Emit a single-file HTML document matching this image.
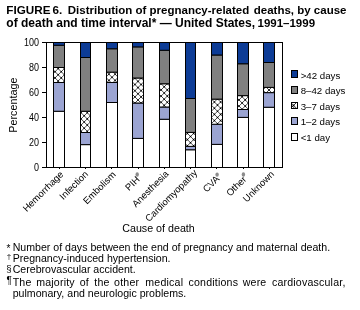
<!DOCTYPE html>
<html><head><meta charset="utf-8"><style>
html,body{margin:0;padding:0;background:#fff;} body{will-change:transform;}
body{width:360px;height:310px;position:relative;overflow:hidden;font-family:"Liberation Sans",sans-serif;color:#000;}
.t{position:absolute;font-weight:bold;line-height:13px;white-space:nowrap;}
svg{position:absolute;left:0;top:0;}
</style></head><body>
<div class="t" style="left:6.3px;top:3px;font-size:11.7px">FIGURE</div>
<div class="t" style="left:52.6px;top:3px;font-size:11.7px">6.</div>
<div class="t" style="left:67.8px;top:4px;font-size:11.5px">Distribution of pregnancy-related</div>
<div class="t" style="left:253.8px;top:4px;font-size:11.5px">deaths, by cause</div>
<div class="t" style="left:6.3px;top:17px;font-size:12px">of death and time interval* — United States,</div>
<div class="t" style="left:257.5px;top:17px;font-size:11.5px">1991–1999</div>
<svg width="360" height="310" viewBox="0 0 360 310" font-family="Liberation Sans" font-size="10">
<defs>
<clipPath id="c0"><rect x="53.5" y="67.50" width="11.0" height="15.00"/></clipPath>
<clipPath id="c1"><rect x="80.5" y="111.25" width="10.0" height="21.25"/></clipPath>
<clipPath id="c2"><rect x="106.5" y="72.12" width="11.0" height="10.38"/></clipPath>
<clipPath id="c3"><rect x="132.5" y="78.00" width="11.0" height="25.00"/></clipPath>
<clipPath id="c4"><rect x="159.5" y="83.75" width="10.0" height="23.25"/></clipPath>
<clipPath id="c5"><rect x="185.5" y="132.38" width="10.0" height="14.00"/></clipPath>
<clipPath id="c6"><rect x="211.5" y="99.12" width="11.0" height="25.12"/></clipPath>
<clipPath id="c7"><rect x="237.5" y="95.62" width="11.0" height="13.88"/></clipPath>
<clipPath id="c8"><rect x="263.5" y="87.38" width="11.0" height="5.25"/></clipPath>
<clipPath id="clg"><rect x="291.5" y="102.5" width="6" height="6"/></clipPath>
</defs>
<rect x="53.5" y="111.25" width="11" height="56.25" fill="#ffffff" stroke="#000" stroke-width="1"/>
<rect x="53.5" y="82.50" width="11" height="28.75" fill="#9ba4d2" stroke="#000" stroke-width="1"/>
<rect x="53.5" y="67.50" width="11" height="15.00" fill="#fff"/>
<g clip-path="url(#c0)"><path d="M30.25,65.50L49.25,84.50M36.45,65.50L55.45,84.50M42.65,65.50L61.65,84.50M48.85,65.50L67.85,84.50M55.05,65.50L74.05,84.50M61.25,65.50L80.25,84.50M67.45,65.50L86.45,84.50M73.65,65.50L92.65,84.50M48.85,65.50L29.85,84.50M55.05,65.50L36.05,84.50M61.25,65.50L42.25,84.50M67.45,65.50L48.45,84.50M73.65,65.50L54.65,84.50M79.85,65.50L60.85,84.50M86.05,65.50L67.05,84.50M92.25,65.50L73.25,84.50" stroke="#000" stroke-width="0.7" fill="none"/><g fill="#000"><circle cx="55.05" cy="71.70" r="0.8"/><circle cx="55.05" cy="77.90" r="0.8"/><circle cx="58.15" cy="68.60" r="0.8"/><circle cx="58.15" cy="74.80" r="0.8"/><circle cx="58.15" cy="81.00" r="0.8"/><circle cx="61.25" cy="71.70" r="0.8"/><circle cx="61.25" cy="77.90" r="0.8"/><circle cx="64.35" cy="68.60" r="0.8"/><circle cx="64.35" cy="74.80" r="0.8"/><circle cx="64.35" cy="81.00" r="0.8"/></g></g>
<rect x="53.5" y="67.50" width="11" height="15.00" fill="none" stroke="#000" stroke-width="1"/>
<rect x="53.5" y="45.25" width="11" height="22.25" fill="#808080" stroke="#000" stroke-width="1"/>
<rect x="53.5" y="42.50" width="11" height="2.75" fill="#0d3c96" stroke="#000" stroke-width="1"/>
<rect x="80.5" y="144.62" width="10" height="22.88" fill="#ffffff" stroke="#000" stroke-width="1"/>
<rect x="80.5" y="132.50" width="10" height="12.12" fill="#9ba4d2" stroke="#000" stroke-width="1"/>
<rect x="80.5" y="111.25" width="10" height="21.25" fill="#fff"/>
<g clip-path="url(#c1)"><path d="M46.60,109.25L71.85,134.50M52.80,109.25L78.05,134.50M59.00,109.25L84.25,134.50M65.20,109.25L90.45,134.50M71.40,109.25L96.65,134.50M77.60,109.25L102.85,134.50M83.80,109.25L109.05,134.50M90.00,109.25L115.25,134.50M96.20,109.25L121.45,134.50M72.10,109.25L46.85,134.50M78.30,109.25L53.05,134.50M84.50,109.25L59.25,134.50M90.70,109.25L65.45,134.50M96.90,109.25L71.65,134.50M103.10,109.25L77.85,134.50M109.30,109.25L84.05,134.50M115.50,109.25L90.25,134.50M121.70,109.25L96.45,134.50" stroke="#000" stroke-width="0.7" fill="none"/><g fill="#000"><circle cx="81.05" cy="112.70" r="0.8"/><circle cx="81.05" cy="118.90" r="0.8"/><circle cx="81.05" cy="125.10" r="0.8"/><circle cx="81.05" cy="131.30" r="0.8"/><circle cx="84.15" cy="115.80" r="0.8"/><circle cx="84.15" cy="122.00" r="0.8"/><circle cx="84.15" cy="128.20" r="0.8"/><circle cx="87.25" cy="112.70" r="0.8"/><circle cx="87.25" cy="118.90" r="0.8"/><circle cx="87.25" cy="125.10" r="0.8"/><circle cx="87.25" cy="131.30" r="0.8"/><circle cx="90.35" cy="115.80" r="0.8"/><circle cx="90.35" cy="122.00" r="0.8"/><circle cx="90.35" cy="128.20" r="0.8"/></g></g>
<rect x="80.5" y="111.25" width="10" height="21.25" fill="none" stroke="#000" stroke-width="1"/>
<rect x="80.5" y="57.50" width="10" height="53.75" fill="#808080" stroke="#000" stroke-width="1"/>
<rect x="80.5" y="42.50" width="10" height="15.00" fill="#0d3c96" stroke="#000" stroke-width="1"/>
<rect x="106.5" y="102.50" width="11" height="65.00" fill="#ffffff" stroke="#000" stroke-width="1"/>
<rect x="106.5" y="82.50" width="11" height="20.00" fill="#9ba4d2" stroke="#000" stroke-width="1"/>
<rect x="106.5" y="72.12" width="11" height="10.38" fill="#fff"/>
<g clip-path="url(#c2)"><path d="M86.22,70.12L100.60,84.50M92.43,70.12L106.80,84.50M98.62,70.12L113.00,84.50M104.83,70.12L119.20,84.50M111.03,70.12L125.40,84.50M117.22,70.12L131.60,84.50M123.43,70.12L137.80,84.50M100.58,70.12L86.20,84.50M106.78,70.12L92.40,84.50M112.98,70.12L98.60,84.50M119.18,70.12L104.80,84.50M125.38,70.12L111.00,84.50M131.58,70.12L117.20,84.50M137.78,70.12L123.40,84.50" stroke="#000" stroke-width="0.7" fill="none"/><g fill="#000"><circle cx="105.80" cy="77.30" r="0.8"/><circle cx="105.80" cy="83.50" r="0.8"/><circle cx="108.90" cy="74.20" r="0.8"/><circle cx="108.90" cy="80.40" r="0.8"/><circle cx="112.00" cy="77.30" r="0.8"/><circle cx="112.00" cy="83.50" r="0.8"/><circle cx="115.10" cy="74.20" r="0.8"/><circle cx="115.10" cy="80.40" r="0.8"/><circle cx="118.20" cy="77.30" r="0.8"/><circle cx="118.20" cy="83.50" r="0.8"/></g></g>
<rect x="106.5" y="72.12" width="11" height="10.38" fill="none" stroke="#000" stroke-width="1"/>
<rect x="106.5" y="48.75" width="11" height="23.38" fill="#808080" stroke="#000" stroke-width="1"/>
<rect x="106.5" y="42.50" width="11" height="6.25" fill="#0d3c96" stroke="#000" stroke-width="1"/>
<rect x="132.5" y="138.38" width="11" height="29.12" fill="#ffffff" stroke="#000" stroke-width="1"/>
<rect x="132.5" y="103.00" width="11" height="35.38" fill="#9ba4d2" stroke="#000" stroke-width="1"/>
<rect x="132.5" y="78.00" width="11" height="25.00" fill="#fff"/>
<g clip-path="url(#c3)"><path d="M95.40,76.00L124.40,105.00M101.60,76.00L130.60,105.00M107.80,76.00L136.80,105.00M114.00,76.00L143.00,105.00M120.20,76.00L149.20,105.00M126.40,76.00L155.40,105.00M132.60,76.00L161.60,105.00M138.80,76.00L167.80,105.00M145.00,76.00L174.00,105.00M151.20,76.00L180.20,105.00M124.80,76.00L95.80,105.00M131.00,76.00L102.00,105.00M137.20,76.00L108.20,105.00M143.40,76.00L114.40,105.00M149.60,76.00L120.60,105.00M155.80,76.00L126.80,105.00M162.00,76.00L133.00,105.00M168.20,76.00L139.20,105.00M174.40,76.00L145.40,105.00M180.60,76.00L151.60,105.00" stroke="#000" stroke-width="0.7" fill="none"/><g fill="#000"><circle cx="131.80" cy="81.40" r="0.8"/><circle cx="131.80" cy="87.60" r="0.8"/><circle cx="131.80" cy="93.80" r="0.8"/><circle cx="131.80" cy="100.00" r="0.8"/><circle cx="134.90" cy="78.30" r="0.8"/><circle cx="134.90" cy="84.50" r="0.8"/><circle cx="134.90" cy="90.70" r="0.8"/><circle cx="134.90" cy="96.90" r="0.8"/><circle cx="134.90" cy="103.10" r="0.8"/><circle cx="138.00" cy="81.40" r="0.8"/><circle cx="138.00" cy="87.60" r="0.8"/><circle cx="138.00" cy="93.80" r="0.8"/><circle cx="138.00" cy="100.00" r="0.8"/><circle cx="141.10" cy="78.30" r="0.8"/><circle cx="141.10" cy="84.50" r="0.8"/><circle cx="141.10" cy="90.70" r="0.8"/><circle cx="141.10" cy="96.90" r="0.8"/><circle cx="141.10" cy="103.10" r="0.8"/><circle cx="144.20" cy="81.40" r="0.8"/><circle cx="144.20" cy="87.60" r="0.8"/><circle cx="144.20" cy="93.80" r="0.8"/><circle cx="144.20" cy="100.00" r="0.8"/></g></g>
<rect x="132.5" y="78.00" width="11" height="25.00" fill="none" stroke="#000" stroke-width="1"/>
<rect x="132.5" y="46.88" width="11" height="31.12" fill="#808080" stroke="#000" stroke-width="1"/>
<rect x="132.5" y="42.50" width="11" height="4.38" fill="#0d3c96" stroke="#000" stroke-width="1"/>
<rect x="159.5" y="119.25" width="10" height="48.25" fill="#ffffff" stroke="#000" stroke-width="1"/>
<rect x="159.5" y="107.00" width="10" height="12.25" fill="#9ba4d2" stroke="#000" stroke-width="1"/>
<rect x="159.5" y="83.75" width="10" height="23.25" fill="#fff"/>
<g clip-path="url(#c4)"><path d="M121.95,81.75L149.20,109.00M128.15,81.75L155.40,109.00M134.35,81.75L161.60,109.00M140.55,81.75L167.80,109.00M146.75,81.75L174.00,109.00M152.95,81.75L180.20,109.00M159.15,81.75L186.40,109.00M165.35,81.75L192.60,109.00M171.55,81.75L198.80,109.00M177.75,81.75L205.00,109.00M150.65,81.75L123.40,109.00M156.85,81.75L129.60,109.00M163.05,81.75L135.80,109.00M169.25,81.75L142.00,109.00M175.45,81.75L148.20,109.00M181.65,81.75L154.40,109.00M187.85,81.75L160.60,109.00M194.05,81.75L166.80,109.00M200.25,81.75L173.00,109.00M206.45,81.75L179.20,109.00" stroke="#000" stroke-width="0.7" fill="none"/><g fill="#000"><circle cx="161.10" cy="83.70" r="0.8"/><circle cx="161.10" cy="89.90" r="0.8"/><circle cx="161.10" cy="96.10" r="0.8"/><circle cx="161.10" cy="102.30" r="0.8"/><circle cx="164.20" cy="86.80" r="0.8"/><circle cx="164.20" cy="93.00" r="0.8"/><circle cx="164.20" cy="99.20" r="0.8"/><circle cx="164.20" cy="105.40" r="0.8"/><circle cx="167.30" cy="83.70" r="0.8"/><circle cx="167.30" cy="89.90" r="0.8"/><circle cx="167.30" cy="96.10" r="0.8"/><circle cx="167.30" cy="102.30" r="0.8"/><circle cx="170.40" cy="86.80" r="0.8"/><circle cx="170.40" cy="93.00" r="0.8"/><circle cx="170.40" cy="99.20" r="0.8"/><circle cx="170.40" cy="105.40" r="0.8"/></g></g>
<rect x="159.5" y="83.75" width="10" height="23.25" fill="none" stroke="#000" stroke-width="1"/>
<rect x="159.5" y="50.25" width="10" height="33.50" fill="#808080" stroke="#000" stroke-width="1"/>
<rect x="159.5" y="42.50" width="10" height="7.75" fill="#0d3c96" stroke="#000" stroke-width="1"/>
<rect x="185.5" y="149.75" width="10" height="17.75" fill="#ffffff" stroke="#000" stroke-width="1"/>
<rect x="185.5" y="146.38" width="10" height="3.38" fill="#9ba4d2" stroke="#000" stroke-width="1"/>
<rect x="185.5" y="132.38" width="10" height="14.00" fill="#fff"/>
<g clip-path="url(#c5)"><path d="M159.57,130.38L177.57,148.38M165.78,130.38L183.78,148.38M171.97,130.38L189.97,148.38M178.18,130.38L196.18,148.38M184.38,130.38L202.38,148.38M190.57,130.38L208.57,148.38M196.78,130.38L214.78,148.38M202.97,130.38L220.97,148.38M178.02,130.38L160.02,148.38M184.23,130.38L166.23,148.38M190.43,130.38L172.43,148.38M196.62,130.38L178.62,148.38M202.82,130.38L184.82,148.38M209.02,130.38L191.02,148.38M215.23,130.38L197.23,148.38M221.43,130.38L203.43,148.38" stroke="#000" stroke-width="0.7" fill="none"/><g fill="#000"><circle cx="187.40" cy="133.40" r="0.8"/><circle cx="187.40" cy="139.60" r="0.8"/><circle cx="187.40" cy="145.80" r="0.8"/><circle cx="190.50" cy="136.50" r="0.8"/><circle cx="190.50" cy="142.70" r="0.8"/><circle cx="193.60" cy="133.40" r="0.8"/><circle cx="193.60" cy="139.60" r="0.8"/><circle cx="193.60" cy="145.80" r="0.8"/></g></g>
<rect x="185.5" y="132.38" width="10" height="14.00" fill="none" stroke="#000" stroke-width="1"/>
<rect x="185.5" y="98.50" width="10" height="33.88" fill="#808080" stroke="#000" stroke-width="1"/>
<rect x="185.5" y="42.50" width="10" height="56.00" fill="#0d3c96" stroke="#000" stroke-width="1"/>
<rect x="211.5" y="144.38" width="11" height="23.12" fill="#ffffff" stroke="#000" stroke-width="1"/>
<rect x="211.5" y="124.25" width="11" height="20.12" fill="#9ba4d2" stroke="#000" stroke-width="1"/>
<rect x="211.5" y="99.12" width="11" height="25.12" fill="#fff"/>
<g clip-path="url(#c6)"><path d="M172.32,97.12L201.45,126.25M178.53,97.12L207.65,126.25M184.73,97.12L213.85,126.25M190.93,97.12L220.05,126.25M197.12,97.12L226.25,126.25M203.32,97.12L232.45,126.25M209.53,97.12L238.65,126.25M215.73,97.12L244.85,126.25M221.93,97.12L251.05,126.25M228.12,97.12L257.25,126.25M206.88,97.12L177.75,126.25M213.07,97.12L183.95,126.25M219.27,97.12L190.15,126.25M225.47,97.12L196.35,126.25M231.67,97.12L202.55,126.25M237.88,97.12L208.75,126.25M244.07,97.12L214.95,126.25M250.27,97.12L221.15,126.25M256.47,97.12L227.35,126.25" stroke="#000" stroke-width="0.7" fill="none"/><g fill="#000"><circle cx="211.30" cy="98.90" r="0.8"/><circle cx="211.30" cy="105.10" r="0.8"/><circle cx="211.30" cy="111.30" r="0.8"/><circle cx="211.30" cy="117.50" r="0.8"/><circle cx="211.30" cy="123.70" r="0.8"/><circle cx="214.40" cy="102.00" r="0.8"/><circle cx="214.40" cy="108.20" r="0.8"/><circle cx="214.40" cy="114.40" r="0.8"/><circle cx="214.40" cy="120.60" r="0.8"/><circle cx="217.50" cy="98.90" r="0.8"/><circle cx="217.50" cy="105.10" r="0.8"/><circle cx="217.50" cy="111.30" r="0.8"/><circle cx="217.50" cy="117.50" r="0.8"/><circle cx="217.50" cy="123.70" r="0.8"/><circle cx="220.60" cy="102.00" r="0.8"/><circle cx="220.60" cy="108.20" r="0.8"/><circle cx="220.60" cy="114.40" r="0.8"/><circle cx="220.60" cy="120.60" r="0.8"/></g></g>
<rect x="211.5" y="99.12" width="11" height="25.12" fill="none" stroke="#000" stroke-width="1"/>
<rect x="211.5" y="55.00" width="11" height="44.12" fill="#808080" stroke="#000" stroke-width="1"/>
<rect x="211.5" y="42.50" width="11" height="12.50" fill="#0d3c96" stroke="#000" stroke-width="1"/>
<rect x="237.5" y="117.38" width="11" height="50.12" fill="#ffffff" stroke="#000" stroke-width="1"/>
<rect x="237.5" y="109.50" width="11" height="7.88" fill="#9ba4d2" stroke="#000" stroke-width="1"/>
<rect x="237.5" y="95.62" width="11" height="13.88" fill="#fff"/>
<g clip-path="url(#c7)"><path d="M214.12,93.62L232.00,111.50M220.33,93.62L238.20,111.50M226.53,93.62L244.40,111.50M232.73,93.62L250.60,111.50M238.93,93.62L256.80,111.50M245.12,93.62L263.00,111.50M251.33,93.62L269.20,111.50M257.52,93.62L275.40,111.50M232.88,93.62L215.00,111.50M239.07,93.62L221.20,111.50M245.27,93.62L227.40,111.50M251.47,93.62L233.60,111.50M257.67,93.62L239.80,111.50M263.88,93.62L246.00,111.50M270.07,93.62L252.20,111.50M276.27,93.62L258.40,111.50" stroke="#000" stroke-width="0.7" fill="none"/><g fill="#000"><circle cx="239.00" cy="99.90" r="0.8"/><circle cx="239.00" cy="106.10" r="0.8"/><circle cx="242.10" cy="96.80" r="0.8"/><circle cx="242.10" cy="103.00" r="0.8"/><circle cx="242.10" cy="109.20" r="0.8"/><circle cx="245.20" cy="99.90" r="0.8"/><circle cx="245.20" cy="106.10" r="0.8"/><circle cx="248.30" cy="96.80" r="0.8"/><circle cx="248.30" cy="103.00" r="0.8"/><circle cx="248.30" cy="109.20" r="0.8"/></g></g>
<rect x="237.5" y="95.62" width="11" height="13.88" fill="none" stroke="#000" stroke-width="1"/>
<rect x="237.5" y="63.75" width="11" height="31.88" fill="#808080" stroke="#000" stroke-width="1"/>
<rect x="237.5" y="42.50" width="11" height="21.25" fill="#0d3c96" stroke="#000" stroke-width="1"/>
<rect x="263.5" y="107.25" width="11" height="60.25" fill="#ffffff" stroke="#000" stroke-width="1"/>
<rect x="263.5" y="92.62" width="11" height="14.62" fill="#9ba4d2" stroke="#000" stroke-width="1"/>
<rect x="263.5" y="87.38" width="11" height="5.25" fill="#fff"/>
<g clip-path="url(#c8)"><path d="M245.78,85.38L255.03,94.62M251.98,85.38L261.23,94.62M258.18,85.38L267.43,94.62M264.38,85.38L273.62,94.62M270.57,85.38L279.82,94.62M276.78,85.38L286.02,94.62M282.98,85.38L292.23,94.62M255.02,85.38L245.77,94.62M261.23,85.38L251.98,94.62M267.43,85.38L258.18,94.62M273.62,85.38L264.38,94.62M279.82,85.38L270.57,94.62M286.02,85.38L276.77,94.62M292.23,85.38L282.98,94.62" stroke="#000" stroke-width="0.7" fill="none"/><g fill="#000"><circle cx="262.80" cy="90.00" r="0.8"/><circle cx="265.90" cy="86.90" r="0.8"/><circle cx="265.90" cy="93.10" r="0.8"/><circle cx="269.00" cy="90.00" r="0.8"/><circle cx="272.10" cy="86.90" r="0.8"/><circle cx="272.10" cy="93.10" r="0.8"/><circle cx="275.20" cy="90.00" r="0.8"/></g></g>
<rect x="263.5" y="87.38" width="11" height="5.25" fill="none" stroke="#000" stroke-width="1"/>
<rect x="263.5" y="62.50" width="11" height="24.88" fill="#808080" stroke="#000" stroke-width="1"/>
<rect x="263.5" y="42.50" width="11" height="20.00" fill="#0d3c96" stroke="#000" stroke-width="1"/>
<g stroke="#000" stroke-width="1" fill="none">
<line x1="42" y1="42.5" x2="282.5" y2="42.5"/>
<line x1="46.5" y1="42" x2="46.5" y2="167.5"/>
<line x1="42" y1="167.5" x2="283" y2="167.5"/>
<line x1="282.5" y1="42" x2="282.5" y2="168"/>
<line x1="42" y1="42.5" x2="46" y2="42.5"/><line x1="42" y1="67.5" x2="46" y2="67.5"/><line x1="42" y1="92.5" x2="46" y2="92.5"/><line x1="42" y1="117.5" x2="46" y2="117.5"/><line x1="42" y1="142.5" x2="46" y2="142.5"/><line x1="42" y1="167.5" x2="46" y2="167.5"/>
<line x1="59.5" y1="167" x2="59.5" y2="169"/><line x1="85.5" y1="167" x2="85.5" y2="169"/><line x1="111.5" y1="167" x2="111.5" y2="169"/><line x1="138.5" y1="167" x2="138.5" y2="169"/><line x1="164.5" y1="167" x2="164.5" y2="169"/><line x1="190.5" y1="167" x2="190.5" y2="169"/><line x1="216.5" y1="167" x2="216.5" y2="169"/><line x1="243.5" y1="167" x2="243.5" y2="169"/><line x1="269.5" y1="167" x2="269.5" y2="169"/>
</g>
<g fill="#000"><text transform="translate(38.9,46) scale(0.9,1)" text-anchor="end" font-size="10">100</text><text transform="translate(38.9,71) scale(0.9,1)" text-anchor="end" font-size="10">80</text><text transform="translate(38.9,96) scale(0.9,1)" text-anchor="end" font-size="10">60</text><text transform="translate(38.9,121) scale(0.9,1)" text-anchor="end" font-size="10">40</text><text transform="translate(38.9,146) scale(0.9,1)" text-anchor="end" font-size="10">20</text><text transform="translate(38.9,171) scale(0.9,1)" text-anchor="end" font-size="10">0</text></g>
<text transform="translate(17,105.2) rotate(-90)" text-anchor="middle" font-size="10.8">Percentage</text>
<g><text transform="translate(64.1,174.9) rotate(-45)" text-anchor="end" font-size="9.5">Hemorrhage</text><text transform="translate(88.75,174.75) rotate(-45)" text-anchor="end" font-size="9.5">Infection</text><text transform="translate(116.45,175.2) rotate(-45)" text-anchor="end" font-size="9.5">Embolism</text><text transform="translate(140.3,180.15) rotate(-45)" text-anchor="end" font-size="9.5">PIH</text><text transform="translate(169.25,174.5) rotate(-45)" text-anchor="end" font-size="9.5">Anesthesia</text><text transform="translate(197.95,173.45) rotate(-45)" text-anchor="end" font-size="9.5">Cardiomyopathy</text><text transform="translate(220,179.45) rotate(-45)" text-anchor="end" font-size="9.5">CVA</text><text transform="translate(246.95,179.9) rotate(-45)" text-anchor="end" font-size="9.5">Other</text><text transform="translate(274.8,174.7) rotate(-45)" text-anchor="end" font-size="9.5">Unknown</text><ellipse cx="137.2" cy="174.5" rx="1.7" ry="2.2" fill="#8c8c8c"/><ellipse cx="217.1" cy="174.6" rx="1.7" ry="2.2" fill="#8c8c8c"/><ellipse cx="243.4" cy="174.4" rx="1.7" ry="2.2" fill="#8c8c8c"/></g>
<text x="158.5" y="232" text-anchor="middle" font-size="10.7">Cause of death</text>
<g font-size="9.7">
<rect x="291.5" y="70.5" width="6" height="7" fill="#0d3c96" stroke="#000"/>
<text x="300.7" y="79">&gt;42 days</text>
<rect x="291.5" y="86.5" width="6" height="7" fill="#808080" stroke="#000"/>
<text x="300.7" y="94">8–42 days</text>
<rect x="291.5" y="102.5" width="6" height="6" fill="#fff"/><g clip-path="url(#clg)"><path d="M288.6,100.4L298.6,110.4M288.6,110.4L298.6,100.4M296.7,100.4L306.7,110.4M296.7,110.4L286.7,100.4" stroke="#000" stroke-width="0.8" fill="none"/><circle cx="293.6" cy="105.4" r="0.8"/></g><rect x="291.5" y="102.5" width="6" height="6" fill="none" stroke="#000"/>
<text x="300.7" y="110">3–7 days</text>
<rect x="291.5" y="117.5" width="6" height="7" fill="#9ba4d2" stroke="#000"/>
<text x="300.7" y="125">1–2 days</text>
<rect x="291.5" y="133.5" width="6" height="7" fill="#fff" stroke="#000"/>
<text x="300.7" y="141">&lt;1 day</text>
</g>
</svg>
<svg width="360" height="310" viewBox="0 0 360 310" font-family="Liberation Sans" font-size="10.6">
<text x="6.6" y="251.5" font-size="10">*</text><text x="12.7" y="251">Number of days between the end of pregnancy and maternal death.</text>
<text x="6.7" y="259.2" font-size="8">†</text><text x="12.7" y="262">Pregnancy-induced hypertension.</text>
<text x="6.2" y="271.5" font-size="9.6">§</text><text x="12.7" y="273">Cerebrovascular accident.</text>
<text x="6.4" y="284.2" font-size="10">¶</text><g letter-spacing="0.2"><text x="12.7" y="285.5">The</text><text x="36.2" y="285.5">majority</text><text x="79.75" y="285.5">of</text><text x="94.3" y="285.5">the</text><text x="114.1" y="285.5">other</text><text x="145.3" y="285.5">medical</text><text x="188.5" y="285.5">conditions</text><text x="242.7" y="285.5">were</text><text x="271.9" y="285.5">cardiovascular,</text></g>
<text x="12.7" y="297.2">pulmonary, and neurologic problems.</text>
</svg>
</body></html>
